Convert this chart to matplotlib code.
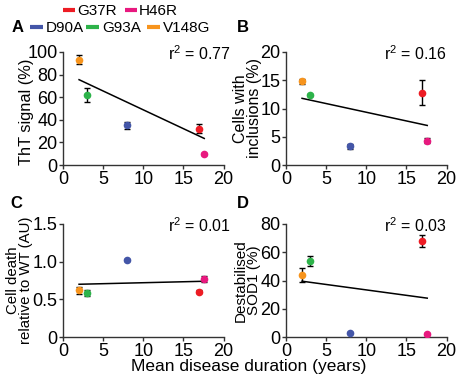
import matplotlib
matplotlib.use("Agg")
import matplotlib.pyplot as plt
from matplotlib.lines import Line2D

plt.rcParams['font.family'] = ['Liberation Sans', 'DejaVu Sans']
plt.rcParams['mathtext.fontset'] = 'custom'
plt.rcParams['mathtext.rm'] = 'Liberation Sans'
plt.rcParams['mathtext.it'] = 'Liberation Sans:italic'

mutants = ["G37R", "H46R", "D90A", "G93A", "V148G"]
colors = ["#ED1C24", "#E8197F", "#4456A8", "#2DB34A", "#F7941D"]
duration = [17.0, 17.6, 8.0, 3.0, 2.0]

tht = [32, 10, 35, 62, 93]
tht_err = [4, 1, 3, 6, 4]
incl = [12.8, 4.3, 3.3, 12.4, 14.8]
incl_err = [2.2, 0.4, 0.4, 0.2, 0.5]
death = [0.60, 0.77, 1.02, 0.59, 0.62]
death_err = [0.02, 0.04, 0.01, 0.04, 0.05]
destab = [68, 2, 3, 54, 44]
destab_err = [4.5, 0.5, 0.5, 3.5, 5]

fit_a = [75.5, 23.5]
fit_b = [11.8, 7.0]
fit_c = [0.70, 0.74]
fit_d = [39.5, 27.5]

r2 = ["0.77", "0.16", "0.01", "0.03"]
ylabels = ["ThT signal (%)", "Cells with\ninclusions (%)",
           "Cell death\nrelative to WT (AU)", "Destabilised\nSOD1 (%)"]
yticks = [[0, 20, 40, 60, 80, 100], [0, 5, 10, 15, 20], [0, 0.5, 1.0, 1.5], [0, 20, 40, 60, 80]]
yticklabels = [["0", "20", "40", "60", "80", "100"], ["0", "5", "10", "15", "20"],
               ["0", "0.5", "1.0", "1.5"], ["0", "20", "40", "60", "80"]]
xticks = [0, 5, 10, 15, 20]
letters = ["A", "B", "C", "D"]

W, H = 459, 378
fig = plt.figure(figsize=(W / 100, H / 100), dpi=100)

# axes rects in pixels: left, top, right, bottom
rects = [(63, 52, 223.5, 165), (286, 52, 446.5, 165),
         (63, 224, 223.5, 337), (286, 224, 446.5, 337)]
label_x = [26, 247.5, 19.5, 247.5]
label_fs = [11.8, 11.5, 10.8, 11.0]
label_y = [0.47, 0.5, 0.5, 0.5]
r2_right = [231, 447, 231, 447]
letter_pos = [(12, 27), (237, 27), (10, 203), (237, 203)]
datasets = [(tht, tht_err, fit_a), (incl, incl_err, fit_b),
            (death, death_err, fit_c), (destab, destab_err, fit_d)]
spine_col = "#333333"
for i, (r, (vals, errs, fit)) in enumerate(zip(rects, datasets)):
    l, t, rr, b = r
    ax = fig.add_axes([l / W, 1 - b / H, (rr - l) / W, (b - t) / H])
    xs = [min(duration), max(duration)]
    ax.plot(xs, fit, color="black", lw=1.1, zorder=2)
    for x, y, e, c in zip(duration, vals, errs, colors):
        ax.errorbar(x, y, yerr=e, fmt="none", ecolor="black", elinewidth=1,
                    capsize=2.5, capthick=1, zorder=3)
        ax.plot(x, y, "o", color=c, markersize=5.5, zorder=4, markeredgewidth=0)
    ax.set_xlim(0, 20)
    ax.set_ylim(yticks[i][0], yticks[i][-1])
    ax.set_xticks(xticks)
    ax.set_yticks(yticks[i])
    ax.set_yticklabels(yticklabels[i])
    for s in ["top", "right"]:
        ax.spines[s].set_visible(False)
    for s in ["left", "bottom"]:
        ax.spines[s].set_color(spine_col)
        ax.spines[s].set_linewidth(1)
    ax.tick_params(length=3, width=1, color=spine_col, labelsize=13, pad=1)
    ax.set_ylabel(ylabels[i], fontsize=label_fs[i], linespacing=0.9, va="center")
    ax.yaxis.set_label_coords((label_x[i] - l) / (rr - l), label_y[i])
    fig.text(r2_right[i] / W, 1 - (t + 2) / H, "r$^2$ = " + r2[i],
             ha="right", va="center", fontsize=11.5)
    for lab in ax.get_xticklabels() + ax.get_yticklabels():
        lab.set_clip_on(False)

for lt, (px, py) in zip(letters, letter_pos):
    fig.text(px / W, 1 - py / H, lt, fontsize=12, fontweight="bold", va="center", ha="left")

fig.text(249 / W, 1 - 366 / H, "Mean disease duration (years)", fontsize=12.5,
         ha="center", va="center")

# legend entries placed in pixel positions: (handle start, handle end, text left, y)
legend_pos = [(63, 75, 77, 9.5), (125, 137, 139, 9.5),
              (30, 43, 46, 27), (86, 99, 102, 27), (147, 160, 163, 27)]
for name, c, (h0, h1, tx, y) in zip(mutants, colors, legend_pos):
    fig.add_artist(Line2D([h0 / W, h1 / W], [1 - y / H, 1 - y / H], color=c, lw=3,
                          transform=fig.transFigure, solid_capstyle="butt"))
    fig.text(tx / W, 1 - y / H, name, fontsize=11, ha="left", va="center_baseline")

fig.savefig("out.png", dpi=100)
